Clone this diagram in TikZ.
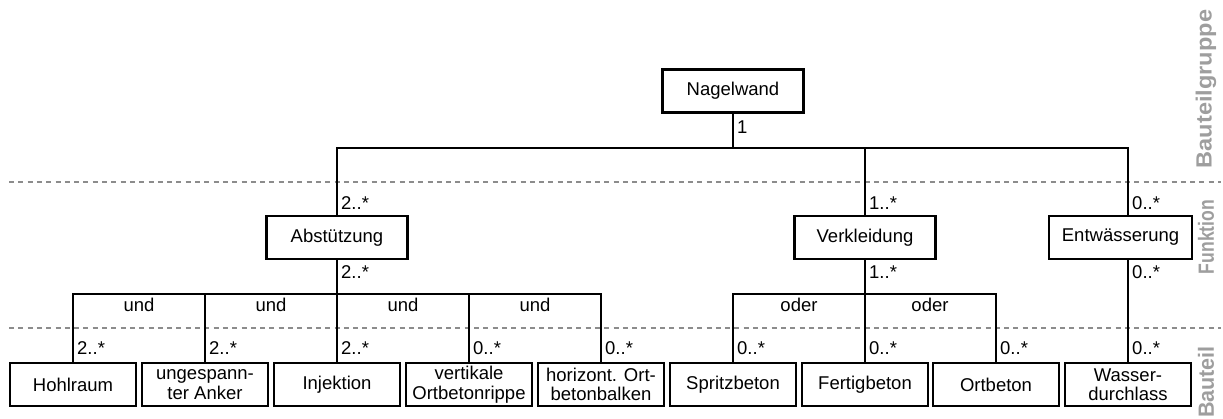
\documentclass[tikz,border=0pt]{standalone}
\usepackage{fontspec}
\setmainfont{Liberation Sans}
\begin{document}
\begin{tikzpicture}[x=1pt,y=-1pt,
  every node/.style={font=\fontsize{18.5}{19.5}\selectfont, inner sep=1pt},
  box/.style={draw, line width=2.2pt, rectangle, align=center,
              minimum height=43pt},
  topbox/.style={box, minimum width=141pt},
  partbox/.style={box, minimum width=126pt},
  conn/.style={line width=2.2pt},
  mult/.style={anchor=west},
  sep/.style={draw=black!45, line width=1.6pt, dash pattern=on 5pt off 4.3pt},
  level/.style={rotate=90, text=black!38,
                font=\fontsize{22}{24}\selectfont\bfseries}]
\useasboundingbox (0,0) rectangle (1223,419);

% layer separators
\coordinate (sepAl) at (9,182);   \coordinate (sepAr) at (1221,182);
\coordinate (sepBl) at (9,328);   \coordinate (sepBr) at (1221,328);
\draw[sep] (sepAl) -- (sepAr);
\draw[sep] (sepBl) -- (sepBr);

% layer names
\node[level] (lgrp) at (1206,89)  {\scalebox{1.07}[1]{Bauteilgruppe}};
\node[level] (lfkt) at (1206,237) {\scalebox{0.8}[1]{Funktion}};
\node[level] (lbt)  at (1206,382) {\scalebox{0.98}[1]{Bauteil}};

% component group
\node[topbox] (nw) at (733,91) {Nagelwand};

% functions
\node[topbox] (ab) at (337,237.5) {Abstützung};
\node[topbox] (vk) at (865,237.5) {Verkleidung};
\node[topbox, minimum width=143pt] (ew) at (1120.5,237.5) {Entwässerung};

% components
\node[partbox] (hohl)  at (73,384.5)  {Hohlraum};
\node[partbox] (ank)   at (205,384.5) {ungespann-\\ter Anker};
\node[partbox] (inj)   at (337,384.5) {Injektion};
\node[partbox] (vert)  at (469,384.5) {vertikale\\Ortbetonrippe};
\node[partbox] (horz)  at (601,384.5) {horizont. Ort-\\betonbalken};
\node[partbox] (spz)   at (733,384.5) {Spritzbeton};
\node[partbox] (fert)  at (865,384.5) {Fertigbeton};
\node[partbox] (ort)   at (996,384.5) {Ortbeton};
\node[partbox] (was)   at (1128,384.5){Wasser-\\durchlass};

% bus lines
\coordinate (busT) at (0,148);
\coordinate (busB) at (0,294);
\coordinate (ewin) at (1128,216);

% Nagelwand -> functions
\draw[conn] (nw.south) -- (nw.south |- busT) -| (ab.north);
\draw[conn] (vk.north) -- (vk.north |- busT);
\draw[conn] (ab.north |- busT) -- (ewin |- busT) -- (ewin);

% Abstützung -> components (und)
\draw[conn] (ab.south) -- (inj.north);
\draw[conn] (hohl.north) -- (hohl.north |- busB) -- (horz.north |- busB) -- (horz.north);
\draw[conn] (ank.north) -- (ank.north |- busB);
\draw[conn] (vert.north) -- (vert.north |- busB);

% Verkleidung -> components (oder)
\draw[conn] (vk.south) -- (fert.north);
\draw[conn] (spz.north) -- (spz.north |- busB) -- (ort.north |- busB) -- (ort.north);

% Entwässerung -> Wasserdurchlass
\draw[conn] (was.north |- ew.south) -- (was.north);

% multiplicities
\node[mult] (m0) at (736,127) {1};
\node[mult] (m1) at (340,203) {2..*};
\node[mult] (m2) at (868,203) {1..*};
\node[mult] (m3) at (1131,203) {0..*};
\node[mult] (m4) at (340,272) {2..*};
\node[mult] (m5) at (868,272) {1..*};
\node[mult] (m6) at (1131,272) {0..*};
\node[mult] (b1) at (76,348)  {2..*};
\node[mult] (b2) at (208,348) {2..*};
\node[mult] (b3) at (340,348) {2..*};
\node[mult] (b4) at (472,348) {0..*};
\node[mult] (b5) at (604,348) {0..*};
\node[mult] (b6) at (736,348) {0..*};
\node[mult] (b7) at (868,348) {0..*};
\node[mult] (b8) at (999,348) {0..*};
\node[mult] (b9) at (1131,348) {0..*};

% relation kinds
\node (u1) at (139,305) {und};
\node (u2) at (271,305) {und};
\node (u3) at (403,305) {und};
\node (u4) at (535,305) {und};
\node (o1) at (799,305) {oder};
\node (o2) at (930,305) {oder};
\end{tikzpicture}
\end{document}
